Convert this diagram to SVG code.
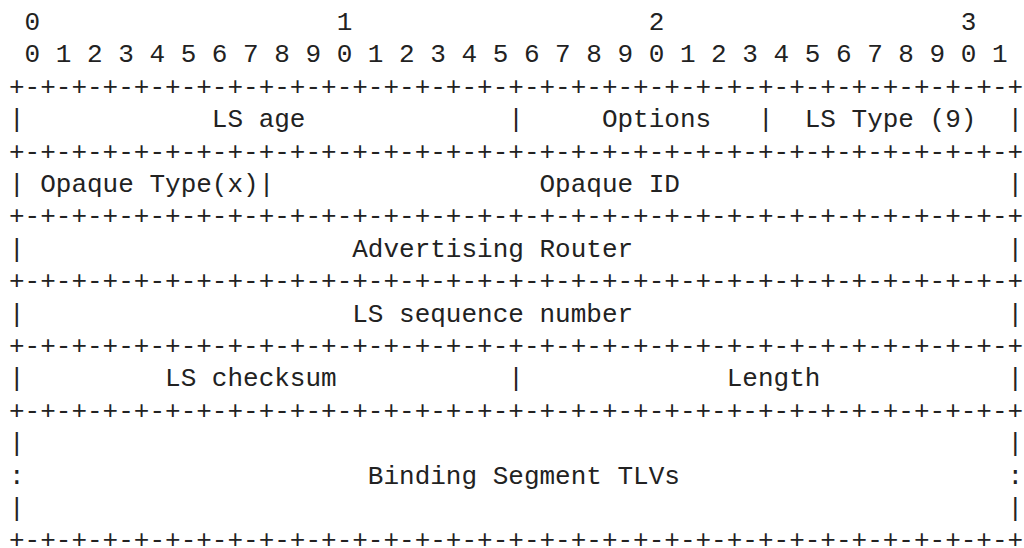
<svg xmlns="http://www.w3.org/2000/svg" width="1024" height="548" viewBox="0 0 1024 548">
<style>
text{font-family:"Liberation Mono","DejaVu Sans Mono",monospace;font-size:26px;fill:#222;white-space:pre}
</style>
<rect width="1024" height="548" fill="#fff"/>
<g id="ruler">
<text x="9" y="30" xml:space="preserve"> 0                   1                   2                   3</text>
<text x="9" y="62.4" xml:space="preserve"> 0 1 2 3 4 5 6 7 8 9 0 1 2 3 4 5 6 7 8 9 0 1 2 3 4 5 6 7 8 9 0 1</text>
</g>
<g id="packet">
<text x="9" y="94.8" xml:space="preserve">+-+-+-+-+-+-+-+-+-+-+-+-+-+-+-+-+-+-+-+-+-+-+-+-+-+-+-+-+-+-+-+-+</text>
<text x="9" y="127.2" xml:space="preserve">|            LS age             |     Options   |  LS Type (9)  |</text>
<text x="9" y="159.6" xml:space="preserve">+-+-+-+-+-+-+-+-+-+-+-+-+-+-+-+-+-+-+-+-+-+-+-+-+-+-+-+-+-+-+-+-+</text>
<text x="9" y="192" xml:space="preserve">| Opaque Type(x)|                 Opaque ID                     |</text>
<text x="9" y="224.4" xml:space="preserve">+-+-+-+-+-+-+-+-+-+-+-+-+-+-+-+-+-+-+-+-+-+-+-+-+-+-+-+-+-+-+-+-+</text>
<text x="9" y="256.8" xml:space="preserve">|                     Advertising Router                        |</text>
<text x="9" y="289.2" xml:space="preserve">+-+-+-+-+-+-+-+-+-+-+-+-+-+-+-+-+-+-+-+-+-+-+-+-+-+-+-+-+-+-+-+-+</text>
<text x="9" y="321.6" xml:space="preserve">|                     LS sequence number                        |</text>
<text x="9" y="354" xml:space="preserve">+-+-+-+-+-+-+-+-+-+-+-+-+-+-+-+-+-+-+-+-+-+-+-+-+-+-+-+-+-+-+-+-+</text>
<text x="9" y="386.4" xml:space="preserve">|         LS checksum           |             Length            |</text>
<text x="9" y="418.8" xml:space="preserve">+-+-+-+-+-+-+-+-+-+-+-+-+-+-+-+-+-+-+-+-+-+-+-+-+-+-+-+-+-+-+-+-+</text>
<text x="9" y="451.2" xml:space="preserve">|                                                               |</text>
<text x="9" y="483.6" xml:space="preserve">:                      Binding Segment TLVs                     :</text>
<text x="9" y="516" xml:space="preserve">|                                                               |</text>
<text x="9" y="548.4" xml:space="preserve">+-+-+-+-+-+-+-+-+-+-+-+-+-+-+-+-+-+-+-+-+-+-+-+-+-+-+-+-+-+-+-+-+</text>
</g>
</svg>
